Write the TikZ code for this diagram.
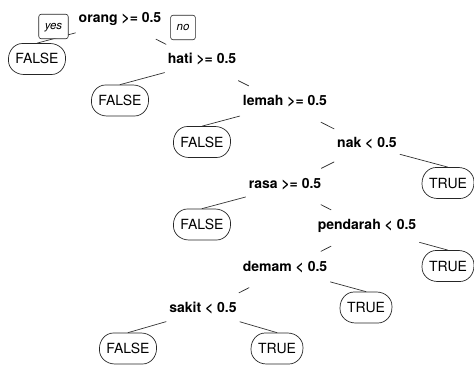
\documentclass[tikz,border=0pt]{standalone}
\usepackage{fontspec}
\setmainfont{TeX Gyre Heros}
\begin{document}
\begin{tikzpicture}[x=1pt,y=-1pt,line join=round,line cap=round,
    ovalcorners/.code={\pgfsetcornersarced{\pgfpoint{14pt}{15.5pt}}},
    splitlabel/.style={font=\fontsize{14}{16}\selectfont\bfseries,
      text height=11pt,text depth=8pt,inner xsep=3pt,inner ysep=8.5pt},
    leafbox/.style={draw=black!85,line width=0.7pt,ovalcorners,
      font=\fontsize{14}{16}\selectfont,text height=10pt,text depth=0pt,
      inner xsep=7pt,inner ysep=10.5pt},
    answerbox/.style={draw=black!85,fill=white,line width=0.6pt,rounded corners=2.5pt,
      font=\fontsize{11.5}{13}\selectfont\itshape,text height=8pt,text depth=2.5pt,
      inner xsep=6pt,inner ysep=7pt},
    branchline/.style={draw=black!80,line width=0.7pt}]
    \useasboundingbox (0,0) rectangle (474,369);
    % splits
    \node[splitlabel] (orang) at (120,21) {orang >= 0.5};
    \node[splitlabel] (hati) at (202,62.5) {hati >= 0.5};
    \node[splitlabel] (lemah) at (285,104) {lemah >= 0.5};
    \node[splitlabel] (nak) at (367,145.5) {nak < 0.5};
    \node[splitlabel] (rasa) at (285,186.5) {rasa >= 0.5};
    \node[splitlabel] (pendarah) at (367,228) {pendarah < 0.5};
    \node[splitlabel] (demam) at (285,269.5) {demam < 0.5};
    \node[splitlabel] (sakit) at (203,311) {sakit < 0.5};
    % leaves
    \node[leafbox] (f1) at (37,59) {FALSE};
    \node[leafbox] (f2) at (120,100.5) {FALSE};
    \node[leafbox] (f3) at (202,142) {FALSE};
    \node[leafbox] (t1) at (448,183) {TRUE};
    \node[leafbox] (f4) at (202,224.5) {FALSE};
    \node[leafbox] (t2) at (448,266) {TRUE};
    \node[leafbox] (t3) at (366,307.5) {TRUE};
    \node[leafbox] (f5) at (128,348.5) {FALSE};
    \node[leafbox] (t4) at (277,348.5) {TRUE};
    % branches
    \draw[branchline] (orang) -- (f1.north);
    \draw[branchline] (orang) -- (hati);
    \draw[branchline] (hati) -- (f2.north);
    \draw[branchline] (hati) -- (lemah);
    \draw[branchline] (lemah) -- (f3.north);
    \draw[branchline] (lemah) -- (nak);
    \draw[branchline] (nak) -- (rasa);
    \draw[branchline] (nak) -- (t1.north);
    \draw[branchline] (rasa) -- (f4.north);
    \draw[branchline] (rasa) -- (pendarah);
    \draw[branchline] (pendarah) -- (demam);
    \draw[branchline] (pendarah) -- (t2.north);
    \draw[branchline] (demam) -- (sakit);
    \draw[branchline] (demam) -- (t3.north);
    \draw[branchline] (sakit) -- (f5.north);
    \draw[branchline] (sakit) -- (t4.north);
    % yes / no
    \node[answerbox] (yes) at (53.5,26.5) {yes};
    \node[answerbox] (no) at (183,27.5) {no};
\end{tikzpicture}
\end{document}
